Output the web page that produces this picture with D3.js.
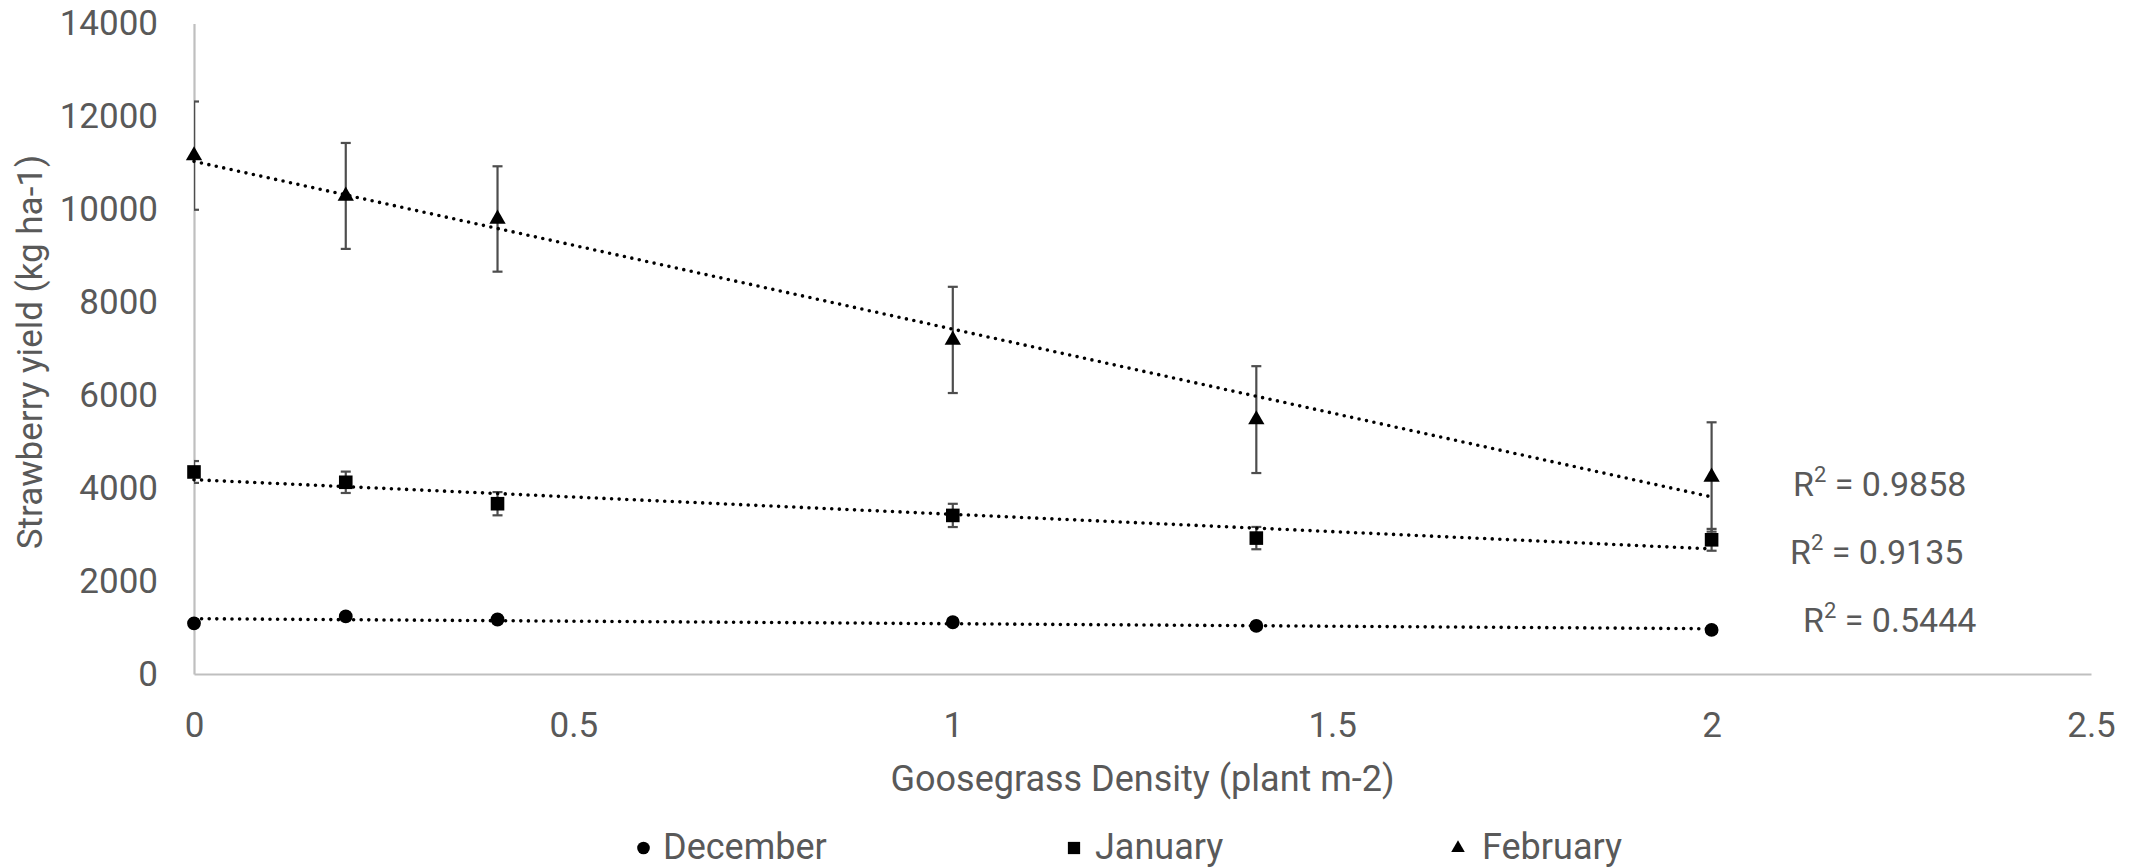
<!DOCTYPE html>
<html><head><meta charset="utf-8">
<script src="https://cdn.jsdelivr.net/npm/d3@7"></script>
<style>
body{margin:0;background:#fff}
text{font-family:Roboto,"Liberation Sans",sans-serif;fill:#595959}
</style>
</head><body>
<svg id="chart" width="2143" height="868"></svg>
<script>
// ---- data ----
const density = [0, 0.2, 0.4, 1, 1.4, 2];
const seriesNames = ["December", "January", "February"];
const december = [1091, 1240, 1173, 1114, 1035, 948];
const decemberErr = [80, 80, 80, 80, 80, 80];
const january = [4348, 4126, 3665, 3413, 2925, 2888];
const januaryErr = [235, 230, 250, 250, 240, 235];
const february = [11156, 10289, 9793, 7190, 5475, 4240];
const februaryErr = [1165, 1140, 1134, 1143, 1150, 1177];
const r2Labels = ["0.5444", "0.9135", "0.9858"];
const yTicks = [0, 2000, 4000, 6000, 8000, 10000, 12000, 14000];
const xTicks = [0, 0.5, 1, 1.5, 2, 2.5];

const svg = d3.select("#chart");
const X0 = 194, X1 = 2091, Y0 = 674, Y1 = 23.5;
const x = d3.scaleLinear().domain([0, 2.5]).range([X0, X1]);
const y = d3.scaleLinear().domain([0, 14000]).range([Y0, Y1]);

const series = [
  {name: seriesNames[0], vals: december, err: decemberErr, sym: d3.symbolCircle, size: 150, lsize: 125, r2: r2Labels[0]},
  {name: seriesNames[1], vals: january, err: januaryErr, sym: d3.symbolSquare, size: 185, lsize: 150, r2: r2Labels[1]},
  {name: seriesNames[2], vals: february, err: februaryErr, sym: d3.symbolTriangle, size: 115, lsize: 80, r2: r2Labels[2]}
];

svg.append("defs").append("clipPath").attr("id", "plotclip")
  .append("rect").attr("x", X0).attr("y", 0).attr("width", X1 - X0).attr("height", Y0);

// axes
const gy = svg.append("g").attr("transform", `translate(${X0},0)`)
  .call(d3.axisLeft(y).tickValues(yTicks).tickSize(0).tickPadding(36).tickFormat(d3.format("d")));
gy.select(".domain").attr("stroke", "#bfbfbf").attr("stroke-width", 2.2);
gy.selectAll("text").style("font-size", "35px").attr("fill", "#595959").attr("font-family", null);

const gx = svg.append("g").attr("transform", `translate(0,${Y0})`)
  .call(d3.axisBottom(x).tickValues(xTicks).tickSize(0).tickPadding(38).tickFormat(d => String(d)));
gx.select(".domain").attr("stroke", "#bfbfbf").attr("stroke-width", 2.2);
gx.selectAll("text").style("font-size", "35px").attr("fill", "#595959").attr("font-family", null);

// axis titles
svg.append("text").attr("x", (X0 + X1) / 2).attr("y", 791).attr("text-anchor", "middle")
  .style("font-size", "36px").text("Goosegrass Density (plant m-2)");
svg.append("text").attr("transform", "translate(42,352) rotate(-90)").attr("text-anchor", "middle")
  .style("font-size", "35px").text("Strawberry yield (kg ha-1)");

// regression helper
function fit(xs, ys) {
  const mx = d3.mean(xs), my = d3.mean(ys);
  let sxy = 0, sxx = 0;
  xs.forEach((v, i) => { sxy += (v - mx) * (ys[i] - my); sxx += (v - mx) * (v - mx); });
  const b = sxy / sxx;
  return {b, a: my - b * mx};
}

const xmin = d3.min(density), xmax = d3.max(density);
series.forEach(s => {
  const g = svg.append("g");
  // error bars
  const eg = g.append("g").attr("clip-path", "url(#plotclip)").attr("stroke", "#4d4d4d").attr("stroke-width", 2.2);
  density.forEach((d, i) => {
    const cx = x(d), t = y(s.vals[i] + s.err[i]), b = y(s.vals[i] - s.err[i]);
    eg.append("line").attr("x1", cx).attr("x2", cx).attr("y1", t).attr("y2", b);
    eg.append("line").attr("x1", cx - 5).attr("x2", cx + 5).attr("y1", t).attr("y2", t);
    eg.append("line").attr("x1", cx - 5).attr("x2", cx + 5).attr("y1", b).attr("y2", b);
  });
  // markers
  g.selectAll("path.m").data(density).join("path").attr("class", "m")
    .attr("d", d3.symbol().type(s.sym).size(s.size)())
    .attr("transform", (d, i) => `translate(${x(d)},${y(s.vals[i])})`)
    .attr("fill", "#000");
  // trendline
  const f = fit(density, s.vals);
  g.append("line").attr("x1", x(xmin)).attr("y1", y(f.a + f.b * xmin))
    .attr("x2", x(xmax)).attr("y2", y(f.a + f.b * xmax))
    .attr("stroke", "#000").attr("stroke-width", 3.6).attr("stroke-linecap", "round")
    .attr("stroke-dasharray", "0 7.6");
});

// R² labels
const r2Pos = [[1803, 632], [1790, 564], [1793, 496]];
series.forEach((s, i) => {
  const t = svg.append("text").attr("x", r2Pos[i][0]).attr("y", r2Pos[i][1]).style("font-size", "34px");
  t.append("tspan").text("R");
  t.append("tspan").attr("dy", -14).style("font-size", "22px").text("2");
  t.append("tspan").attr("dy", 14).text(" = " + s.r2);
});

// legend
const legX = [643.5, 1074, 1458], legTextX = [663, 1095, 1482];
series.forEach((s, i) => {
  svg.append("path").attr("d", d3.symbol().type(s.sym).size(s.lsize)())
    .attr("transform", `translate(${legX[i]},848)`).attr("fill", "#000");
  svg.append("text").attr("x", legTextX[i]).attr("y", 859).style("font-size", "36px").text(s.name);
});
</script>
</body></html>
